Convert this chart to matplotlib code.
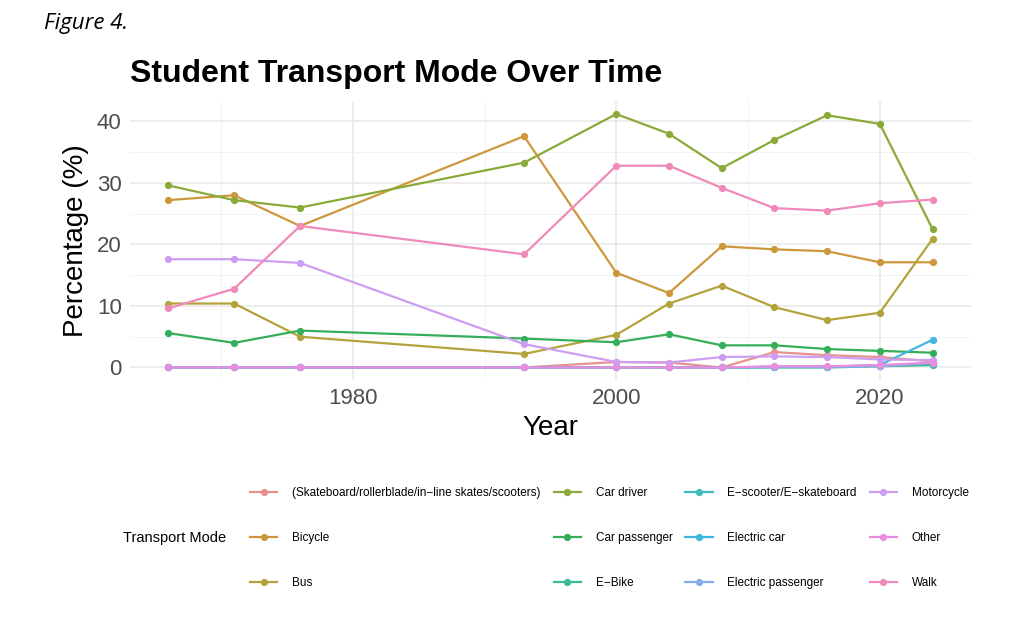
import numpy as np
import matplotlib.pyplot as plt
from matplotlib.ticker import MultipleLocator

# Student transport mode shares (%) by survey year
years = [1966, 1971, 1976, 1993, 2000, 2004, 2008, 2012, 2016, 2020, 2024]

modes = ['(Skateboard/rollerblade/in\u2212line skates/scooters)', 'Bicycle', 'Bus',
         'Car driver', 'Car passenger', 'E\u2212Bike', 'E\u2212scooter/E\u2212skateboard',
         'Electric car', 'Electric passenger', 'Motorcycle', 'Other', 'Walk']

skateboard = [0.0, 0.0, 0.0, 0.0, 0.9, 0.8, 0.0, 2.5, 2.0, 1.7, 1.0]
bicycle = [27.2, 28.0, 23.0, 37.6, 15.4, 12.1, 19.7, 19.2, 18.9, 17.1, 17.1]
bus = [10.4, 10.4, 5.0, 2.2, 5.3, 10.4, 13.3, 9.8, 7.7, 8.9, 20.9]
car_driver = [29.6, 27.2, 26.0, 33.3, 41.2, 38.0, 32.4, 37.0, 41.0, 39.6, 22.5]
car_passenger = [5.6, 4.0, 6.0, 4.7, 4.1, 5.4, 3.6, 3.6, 3.0, 2.7, 2.4]
e_bike = [0.0, 0.0, 0.0, 0.0, 0.0, 0.0, 0.0, 0.0, 0.0, 0.2, 0.4]
e_scooter = [0.0, 0.0, 0.0, 0.0, 0.0, 0.0, 0.0, 0.1, 0.1, 0.3, 0.6]
electric_car = [0.0, 0.0, 0.0, 0.0, 0.0, 0.0, 0.0, 0.1, 0.1, 0.4, 4.5]
electric_passenger = [0.0, 0.0, 0.0, 0.0, 0.0, 0.0, 0.0, 0.1, 0.1, 0.2, 0.8]
motorcycle = [17.6, 17.6, 17.0, 3.8, 0.9, 0.8, 1.7, 1.8, 1.7, 1.3, 1.2]
other = [0.0, 0.0, 0.0, 0.0, 0.0, 0.0, 0.0, 0.2, 0.2, 0.4, 0.8]
walk = [9.6, 12.8, 23.0, 18.4, 32.8, 32.8, 29.2, 25.9, 25.5, 26.7, 27.3]

series = [skateboard, bicycle, bus, car_driver, car_passenger, e_bike, e_scooter,
          electric_car, electric_passenger, motorcycle, other, walk]

# ggplot hue palette, washed out like the screenshot
base = ['#F8766D', '#DE8C00', '#B79F00', '#7CAE00', '#00BA38', '#00C08B',
        '#00BFC4', '#00B4F0', '#619CFF', '#C77CFF', '#F564E3', '#FF64B0']


def soften(hexcol, k=0.35):
    rgb = np.array([int(hexcol[i:i + 2], 16) for i in (1, 3, 5)]) / 255.0
    gray = rgb.mean()
    rgb = rgb * (1 - k) + gray * k * 0.6 + 0.4 * k
    return tuple(np.clip(rgb, 0, 1))


colors = [soften(c) for c in base]

plt.rcParams['font.family'] = ['Liberation Sans', 'DejaVu Sans']

fig = plt.figure(figsize=(10.24, 6.4), dpi=100)
ax = fig.add_axes([0.127, 0.406, 0.821, 0.436])

handles = []
for vals, col, name in zip(series, colors, modes):
    h, = ax.plot(years, vals, color=col, lw=1.6, marker='o', ms=4.2, label=name)
    handles.append(h)

ax.set_xlim(1963.1, 2026.9)
ax.set_ylim(-2.06, 43.3)
ax.xaxis.set_major_locator(MultipleLocator(20))
ax.xaxis.set_minor_locator(MultipleLocator(10))
ax.yaxis.set_major_locator(MultipleLocator(10))
ax.yaxis.set_minor_locator(MultipleLocator(5))
ax.grid(which='major', color='#e8e8e8', lw=1.1)
ax.grid(which='minor', color='#f2f2f2', lw=0.7)
ax.set_axisbelow(True)
for s in ax.spines.values():
    s.set_visible(False)
ax.tick_params(which='both', length=0, labelsize=16, labelcolor='#4d4d4d', pad=6)
ax.set_xlabel('Year', fontsize=20, labelpad=4)
ax.set_ylabel('Percentage (%)', fontsize=20, labelpad=6)

fig.text(0.127, 0.885, 'Student Transport Mode Over Time', fontsize=23,
         fontweight='bold', ha='left', va='center')
fig.text(0.043, 0.963, 'Figure 4.', fontsize=16, style='italic',
         family=['Open Sans', 'DejaVu Sans'], ha='left', va='center')

fig.text(0.12, 0.159, 'Transport Mode', fontsize=10.5, ha='left', va='center')
fig.legend(handles=handles, ncol=4, loc='center left', bbox_to_anchor=(0.234, 0.159),
           frameon=False, fontsize=8.5, handlelength=2.3, handletextpad=1.25,
           columnspacing=1.1, labelspacing=2.8)

fig.savefig('out.png', dpi=100)
